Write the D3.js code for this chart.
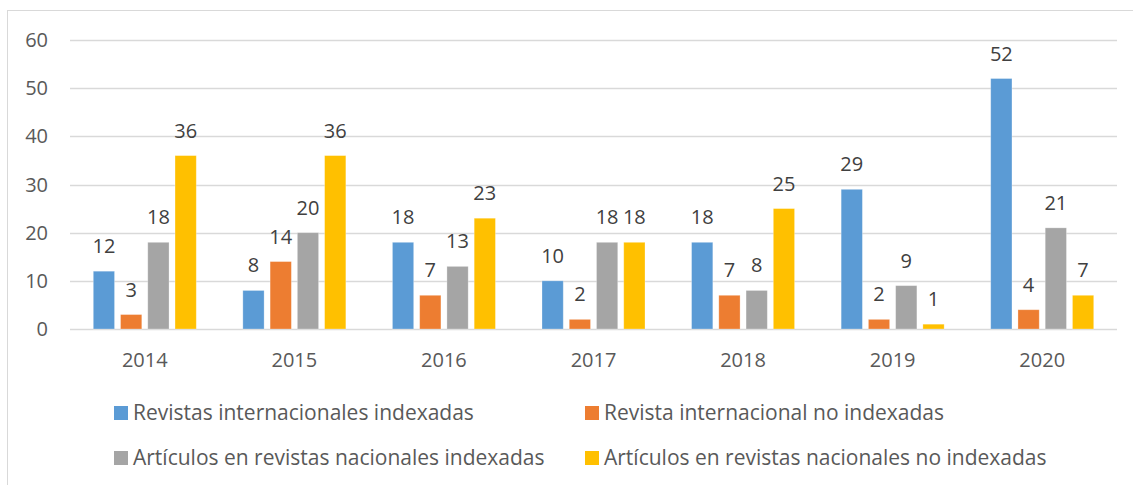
<!DOCTYPE html>
<html>
<head>
<meta charset="utf-8">
<script src="https://cdn.jsdelivr.net/npm/d3@7"></script>
<style>
  body { margin: 0; background: #fff; }
  text { font-family: "Open Sans", sans-serif; fill: #595959; }
</style>
</head>
<body>
<script>
var years = ['2014', '2015', '2016', '2017', '2018', '2019', '2020'];
var seriesNames = [
    'Revistas internacionales indexadas',
    'Revista internacional no indexadas',
    'Artículos en revistas nacionales indexadas',
    'Artículos en revistas nacionales no indexadas'
];
var intIndexadas   = [12, 8, 18, 10, 18, 29, 52];
var intNoIndexadas = [3, 14, 7, 2, 7, 2, 4];
var nacIndexadas   = [18, 20, 13, 18, 8, 9, 21];
var nacNoIndexadas = [36, 36, 23, 18, 25, 1, 7];
var yTicks = [0, 10, 20, 30, 40, 50, 60];
var colors = ['#5B9BD5', '#ED7D31', '#A5A5A5', '#FFC000'];

var allSeries = [intIndexadas, intNoIndexadas, nacIndexadas, nacNoIndexadas];

var width = 1133, height = 485;
var svg = d3.select('body').append('svg')
    .attr('width', width)
    .attr('height', height);

// chart frame (cropped on the right and bottom)
svg.append('rect')
    .attr('x', 7.5).attr('y', 10.5)
    .attr('width', 1140).attr('height', 500)
    .attr('fill', 'none')
    .attr('stroke', '#d9d9d9');

var x0 = d3.scaleBand().domain(years).range([70, 1117]);
var x1 = d3.scaleBand().domain(d3.range(4)).range([-51.5, 51.5]).paddingInner(0.22);
var y = d3.scaleLinear().domain([0, 60]).range([329, 40]);

// gridlines
svg.selectAll('.grid')
    .data(yTicks)
    .enter()
    .append('line')
    .attr('x1', 70).attr('x2', 1117)
    .attr('y1', function (d) { return Math.round(y(d)) + 0.5; })
    .attr('y2', function (d) { return Math.round(y(d)) + 0.5; })
    .attr('stroke', '#d9d9d9')
    .attr('stroke-width', 1.3);

// y labels
svg.selectAll('.ylab')
    .data(yTicks)
    .enter()
    .append('text')
    .attr('x', 48)
    .attr('y', function (d) { return y(d) + 7; })
    .attr('text-anchor', 'end')
    .attr('font-size', 20)
    .text(function (d) { return d; });

// x labels
svg.selectAll('.xlab')
    .data(years)
    .enter()
    .append('text')
    .attr('x', function (d) { return x0(d) + x0.bandwidth() / 2; })
    .attr('y', 367)
    .attr('text-anchor', 'middle')
    .attr('font-size', 20)
    .text(function (d) { return d; });

// bars and labels
allSeries.forEach(function (vals, si) {
    var g = svg.append('g');
    g.selectAll('rect')
        .data(vals)
        .enter()
        .append('rect')
        .attr('x', function (d, i) { return x0(years[i]) + x0.bandwidth() / 2 + x1(si); })
        .attr('y', function (d) { return y(d); })
        .attr('width', x1.bandwidth())
        .attr('height', function (d) { return y(0) - y(d); })
        .attr('fill', colors[si])
        .attr('stroke', '#fff')
        .attr('stroke-opacity', 0.35)
        .attr('stroke-width', 0.8);
    g.selectAll('text')
        .data(vals)
        .enter()
        .append('text')
        .attr('x', function (d, i) { return x0(years[i]) + x0.bandwidth() / 2 + x1(si) + x1.bandwidth() / 2; })
        .attr('y', function (d) { return y(d) - 18; })
        .attr('text-anchor', 'middle')
        .attr('font-size', 20)
        .style('fill', '#404040')
        .text(function (d) { return d; });
});

// legend
var legendPos = [[114, 413], [585, 413], [114, 458], [585, 458]];
seriesNames.forEach(function (name, i) {
    var p = legendPos[i];
    svg.append('rect')
        .attr('x', p[0]).attr('y', p[1] - 7)
        .attr('width', 14).attr('height', 14)
        .attr('fill', colors[i]);
    svg.append('text')
        .attr('x', p[0] + 19)
        .attr('y', p[1] + 7)
        .attr('font-size', 21)
        .text(name);
});
</script>
</body>
</html>
